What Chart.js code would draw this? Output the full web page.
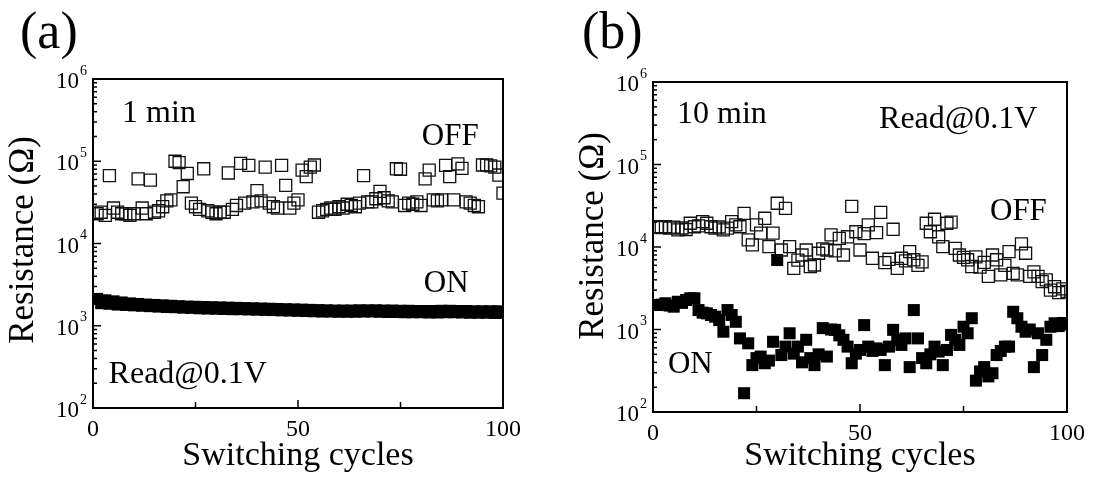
<!DOCTYPE html>
<html>
<head>
<meta charset="utf-8">
<script src="https://cdn.jsdelivr.net/npm/chart.js@4"></script>
<style>
  html, body { margin: 0; padding: 0; background: #fff; }
  #wrap { position: relative; width: 1093px; height: 481px; overflow: hidden; }
  canvas { position: absolute; top: 0; }
  #graficoA { left: 0; }
  #graficoB { left: 546px; }
</style>
</head>
<body>
<div id="wrap">
  <canvas id="graficoA" width="546" height="481"></canvas>
  <canvas id="graficoB" width="547" height="481"></canvas>
</div>
<script>
const FONTE = '"Liberation Serif", "Times New Roman", serif'

// ciclos de chaveamento (eixo x)
const ciclos = Array.from({ length: 100 }, (_, i) => i + 1)

// (a) 1 min
const offA = [
  2.3e4, 2.4e4, 2.2e4, 6.7e4, 2.7e4, 2.4e4, 2.3e4, 2.3e4, 2.2e4, 2.3e4,
  6.1e4, 2.7e4, 2.3e4, 5.9e4, 2.4e4, 2.5e4, 2.8e4, 3.3e4, 3.4e4, 1.0e5,
  9.6e4, 4.9e4, 7.1e4, 3.1e4, 2.8e4, 2.6e4, 8.1e4, 2.5e4, 2.4e4, 2.3e4,
  2.4e4, 2.4e4, 7.2e4, 2.6e4, 2.9e4, 9.4e4, 3.1e4, 8.9e4, 3.2e4, 4.4e4,
  3.3e4, 8.5e4, 3.1e4, 2.8e4, 2.7e4, 8.9e4, 5.1e4, 2.7e4, 3.1e4, 3.4e4,
  7.8e4, 6.5e4, 8.5e4, 9.0e4, 2.4e4, 2.5e4, 2.6e4, 2.7e4, 2.6e4, 2.8e4,
  2.7e4, 3.0e4, 2.9e4, 2.8e4, 3.1e4, 6.7e4, 3.2e4, 3.2e4, 3.5e4, 4.3e4,
  3.6e4, 3.3e4, 3.2e4, 8.1e4, 8.0e4, 2.9e4, 3.1e4, 3.0e4, 3.2e4, 2.9e4,
  6.1e4, 7.8e4, 3.4e4, 3.3e4, 3.4e4, 8.9e4, 6.5e4, 3.4e4, 9.3e4, 8.2e4,
  3.2e4, 3.1e4, 2.9e4, 2.8e4, 9.0e4, 9.0e4, 8.8e4, 8.5e4, 6.8e4, 4.1e4
]
const onA = [
  2120, 1880, 2040, 1850, 1980, 1810, 1920, 1790, 1870, 1770,
  1840, 1750, 1810, 1730, 1790, 1710, 1770, 1690, 1750, 1680,
  1730, 1660, 1710, 1650, 1700, 1630, 1690, 1620, 1680, 1610,
  1670, 1600, 1660, 1590, 1650, 1590, 1640, 1580, 1630, 1570,
  1620, 1560, 1610, 1550, 1600, 1540, 1590, 1530, 1580, 1520,
  1570, 1510, 1560, 1500, 1550, 1490, 1540, 1490, 1530, 1480,
  1530, 1480, 1530, 1480, 1540, 1490, 1540, 1490, 1540, 1480,
  1530, 1470, 1530, 1470, 1520, 1460, 1520, 1460, 1510, 1460,
  1510, 1450, 1510, 1450, 1520, 1460, 1520, 1460, 1510, 1450,
  1510, 1440, 1500, 1440, 1500, 1440, 1500, 1430, 1500, 1430
]

// (b) 10 min
const offB = [
  1.76e4, 1.72e4, 1.76e4, 1.69e4, 1.74e4, 1.61e4, 1.70e4, 1.63e4, 1.94e4, 1.76e4,
  1.80e4, 2.03e4, 1.94e4, 1.76e4, 1.69e4, 1.75e4, 1.61e4, 1.69e4, 2.03e4, 1.85e4,
  1.76e4, 2.56e4, 1.22e4, 1.06e4, 1.85e4, 1.47e4, 2.23e4, 1.01e4, 1.47e4, 3.39e4,
  9.2e3, 2.94e4, 1.01e4, 5.5e3, 6.95e3, 8.0e3, 9.2e3, 5.8e3, 6.05e3, 8.4e3,
  9.5e3, 9.2e3, 1.40e4, 9.0e3, 1.27e4, 8.0e3, 1.33e4, 3.10e4, 1.53e4, 9.2e3,
  1.45e4, 1.85e4, 7.3e3, 1.49e4, 2.63e4, 6.45e3, 7.1e3, 1.64e4, 5.5e3, 7.3e3,
  6.8e3, 8.8e3, 7.0e3, 6.0e3, 6.6e3, 1.94e4, 1.53e4, 2.17e4, 1.33e4, 1.01e4,
  1.94e4, 2.0e4, 9.6e3, 8.0e3, 7.5e3, 7.0e3, 5.8e3, 7.6e3, 5.7e3, 6.5e3,
  4.4e3, 8.0e3, 7.0e3, 4.6e3, 6.0e3, 8.8e3, 4.8e3, 4.6e3, 1.09e4, 8.4e3,
  4.4e3, 5.0e3, 4.4e3, 3.8e3, 4.0e3, 3.0e3, 3.3e3, 2.8e3, 3.1e3, 2.9e3
]
const onB = [
  1980, 2000, 2080, 1950, 1890, 2170, 2100, 2280, 2390, 2390,
  1720, 1600, 1570, 1500, 1430, 1300, 940, 1720, 1500, 1240,
  780, 169, 680, 370, 450, 470, 390, 420, 710, 6950,
  490, 620, 900, 510, 620, 400, 750, 450, 370, 500,
  1040, 470, 1000, 990, 850, 750, 620, 390, 510, 565,
  1130, 620, 550, 590, 565, 370, 620, 990, 750, 650,
  780, 350, 1720, 780, 450, 390, 500, 620, 540, 370,
  565, 860, 750, 650, 1080, 900, 1370, 240, 310, 350,
  270, 295, 490, 550, 620, 620, 1640, 1370, 1080, 940,
  1000, 350, 900, 490, 750, 1080, 1190, 1100, 1200, 1150
]

// eixos
const decadas = [1e2, 1e3, 1e4, 1e5, 1e6]
const ticksX = [0, 50, 100]
const ticksXMenores = [25, 75]

function linha(ctx, x1, y1, x2, y2) {
  ctx.beginPath()
  ctx.moveTo(x1, y1)
  ctx.lineTo(x2, y2)
  ctx.stroke()
}

function pluginMoldura(conf) {
  return {
    id: 'moldura',
    afterDatasetsDraw(chart) {
      const { ctx, chartArea: a, scales: { x, y } } = chart
      ctx.save()
      ctx.strokeStyle = '#000'
      ctx.fillStyle = '#000'

      // ticks para dentro
      ctx.lineWidth = 1.5
      ticksX.forEach((v) => {
        const px = x.getPixelForValue(v)
        linha(ctx, px, a.bottom, px, a.bottom - 8)
      })
      ticksXMenores.forEach((v) => {
        const px = x.getPixelForValue(v)
        linha(ctx, px, a.bottom, px, a.bottom - 6)
      })
      decadas.forEach((d, i) => {
        const py = y.getPixelForValue(d)
        linha(ctx, a.left, py, a.left + 8, py)
        if (i === decadas.length - 1) return
        for (let m = 2; m <= 9; m++) {
          const pm = y.getPixelForValue(d * m)
          linha(ctx, a.left, pm, a.left + 4, pm)
        }
      })

      // moldura
      ctx.lineWidth = 2
      ctx.strokeRect(a.left, a.top, a.right - a.left, a.bottom - a.top)

      // rótulos do eixo y: 10^n
      decadas.forEach((d) => {
        const py = y.getPixelForValue(d)
        ctx.textBaseline = 'middle'
        ctx.textAlign = 'right'
        ctx.font = `23px ${FONTE}`
        ctx.fillText('10', a.left - 14, py + 3)
        ctx.textAlign = 'left'
        ctx.font = `14px ${FONTE}`
        ctx.fillText(String(Math.round(Math.log10(d))), a.left - 13, py - 8)
      })

      // títulos dos eixos
      ctx.font = `34px ${FONTE}`
      ctx.textAlign = 'center'
      ctx.textBaseline = 'alphabetic'
      ctx.fillText('Switching cycles', (a.left + a.right) / 2, 465)

      ctx.save()
      ctx.font = `35px ${FONTE}`
      ctx.translate(conf.tituloY.x, conf.tituloY.y)
      ctx.rotate(-Math.PI / 2)
      ctx.textBaseline = 'middle'
      ctx.fillText('Resistance (Ω)', 0, 0)
      ctx.restore()

      // anotações, posicionadas em coordenadas dos dados
      ctx.textAlign = 'left'
      ctx.textBaseline = 'alphabetic'
      conf.rotulos.forEach((r) => {
        ctx.font = `${r.tamanho}px ${FONTE}`
        ctx.fillText(r.texto, x.getPixelForValue(r.x), y.getPixelForValue(r.y))
      })

      // letra do painel
      ctx.font = `52px ${FONTE}`
      ctx.fillText(conf.letra, conf.posLetra.x, conf.posLetra.y)

      ctx.restore()
    }
  }
}

function criarGrafico(canvasId, conf) {
  return new Chart(document.getElementById(canvasId), {
    type: 'scatter',
    data: {
      datasets: [
        {
          label: 'OFF',
          data: ciclos.map((c, i) => ({ x: c, y: conf.off[i] })),
          pointStyle: 'rect',
          pointRadius: 8.5,
          borderColor: '#111',
          borderWidth: 1.3,
          backgroundColor: 'rgba(0,0,0,0)'
        },
        {
          label: 'ON',
          data: ciclos.map((c, i) => ({ x: c, y: conf.on[i] })),
          pointStyle: 'rect',
          pointRadius: conf.raioOn,
          borderColor: '#000',
          borderWidth: 0,
          backgroundColor: '#000'
        }
      ]
    },
    options: {
      responsive: false,
      animation: false,
      events: [],
      layout: { padding: conf.padding },
      plugins: {
        legend: { display: false },
        tooltip: { enabled: false }
      },
      scales: {
        x: {
          type: 'linear',
          min: 0,
          max: 100,
          afterBuildTicks: (s) => { s.ticks = ticksX.map((v) => ({ value: v })) },
          afterFit: (s) => { s.height = conf.alturaX },
          grid: { display: false, drawTicks: false, tickLength: 0 },
          border: { display: false },
          ticks: { color: '#000', font: { family: FONTE, size: 24 }, padding: 7, maxRotation: 0 }
        },
        y: {
          type: 'logarithmic',
          min: 1e2,
          max: 1e6,
          afterBuildTicks: (s) => { s.ticks = decadas.map((v) => ({ value: v })) },
          afterFit: (s) => { s.width = conf.larguraY },
          grid: { display: false, drawTicks: false },
          border: { display: false },
          ticks: { display: false }
        }
      }
    },
    plugins: [pluginMoldura(conf)]
  })
}

criarGrafico('graficoA', {
  off: offA,
  on: onA,
  raioOn: 8.5,
  padding: { top: 79, right: 43, left: 0, bottom: 0 },
  alturaX: 73,
  larguraY: 93,
  tituloY: { x: 24, y: 240 },
  letra: '(a)',
  posLetra: { x: 20, y: 48 },
  rotulos: [
    { texto: '1 min', x: 7.1, y: 3.0e5, tamanho: 32 },
    { texto: 'OFF', x: 80.2, y: 1.58e5, tamanho: 31 },
    { texto: 'ON', x: 80.7, y: 2.57e3, tamanho: 31 },
    { texto: 'Read@0.1V', x: 3.8, y: 201, tamanho: 32 }
  ]
})

criarGrafico('graficoB', {
  off: offB,
  on: onB,
  raioOn: 8.5,
  padding: { top: 82, right: 26, left: 0, bottom: 0 },
  alturaX: 69,
  larguraY: 107,
  tituloY: { x: 48, y: 236 },
  letra: '(b)',
  posLetra: { x: 36, y: 48 },
  rotulos: [
    { texto: '10 min', x: 5.8, y: 3.18e5, tamanho: 32 },
    { texto: 'Read@0.1V', x: 54.6, y: 2.75e5, tamanho: 32 },
    { texto: 'OFF', x: 81.4, y: 2.12e4, tamanho: 31 },
    { texto: 'ON', x: 3.6, y: 294, tamanho: 31 }
  ]
})
</script>
</body>
</html>
